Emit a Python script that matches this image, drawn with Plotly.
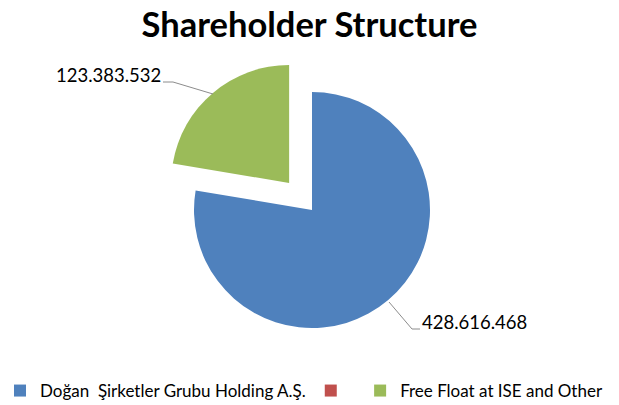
import plotly.graph_objects as go

W, H = 619, 405

labels = ["Doğan  Şirketler Grubu Holding A.Ş.", " ", "Free Float at ISE and Other"]
values = [428616468, 0, 123383532]
colors = ["#4F81BD", "#C0504D", "#9BBB59"]
pulls = [0, 0, 0.3]
value_text = ["428.616.468", "", "123.383.532"]
title_text = "Shareholder Structure"


def px(x):
    return x / W


def py(y):
    return 1 - y / H


# pie box: center (312,210), radius 118 with pull 0.3
cx, cy, r = 312, 210, 118
half = r * (1 + max(pulls))

fig = go.Figure(
    go.Pie(
        labels=labels,
        values=values,
        marker=dict(colors=colors, line=dict(width=0)),
        pull=pulls,
        sort=False,
        direction="clockwise",
        rotation=0,
        textinfo="none",
        hoverinfo="label+value",
        domain=dict(x=[px(cx - 200), px(cx + 200)], y=[py(cy + half), py(cy - half)]),
    )
)

line_color = "#8C8C8C"
shapes = [
    dict(type="path", xref="paper", yref="paper",
         path=f"M {px(163)} {py(82)} L {px(173)} {py(82)} L {px(213)} {py(94)}",
         line=dict(color=line_color, width=1)),
    dict(type="path", xref="paper", yref="paper",
         path=f"M {px(389)} {py(302)} L {px(412)} {py(329)} L {px(420)} {py(329)}",
         line=dict(color=line_color, width=1)),
]

annotations = [
    dict(text=value_text[2], x=px(163), y=py(75), xref="paper", yref="paper",
         xanchor="right", yanchor="middle", showarrow=False,
         font=dict(family="Lato", size=18.5, color="#000000")),
    dict(text=value_text[0], x=px(420), y=py(322), xref="paper", yref="paper",
         xanchor="left", yanchor="middle", showarrow=False,
         font=dict(family="Lato", size=18.5, color="#000000")),
]

fig.update_layout(
    width=W,
    height=H,
    margin=dict(l=0, r=0, t=0, b=0, autoexpand=False),
    paper_bgcolor="white",
    plot_bgcolor="white",
    title=dict(text="<b>" + title_text + "</b>", x=0.5, xanchor="center",
               y=py(25), yanchor="middle", yref="container",
               font=dict(family="Lato", size=34.5, color="#000000")),
    shapes=shapes,
    annotations=annotations,
    showlegend=True,
    legend=dict(orientation="h", x=0, xanchor="left", y=py(391), yanchor="middle",
                font=dict(family="Lato", size=17, color="#000000"),
                traceorder="normal", bgcolor="rgba(0,0,0,0)"),
)

fig.write_html("out.html", config={"displayModeBar": False},
               post_script="document.body.style.margin='0';")
